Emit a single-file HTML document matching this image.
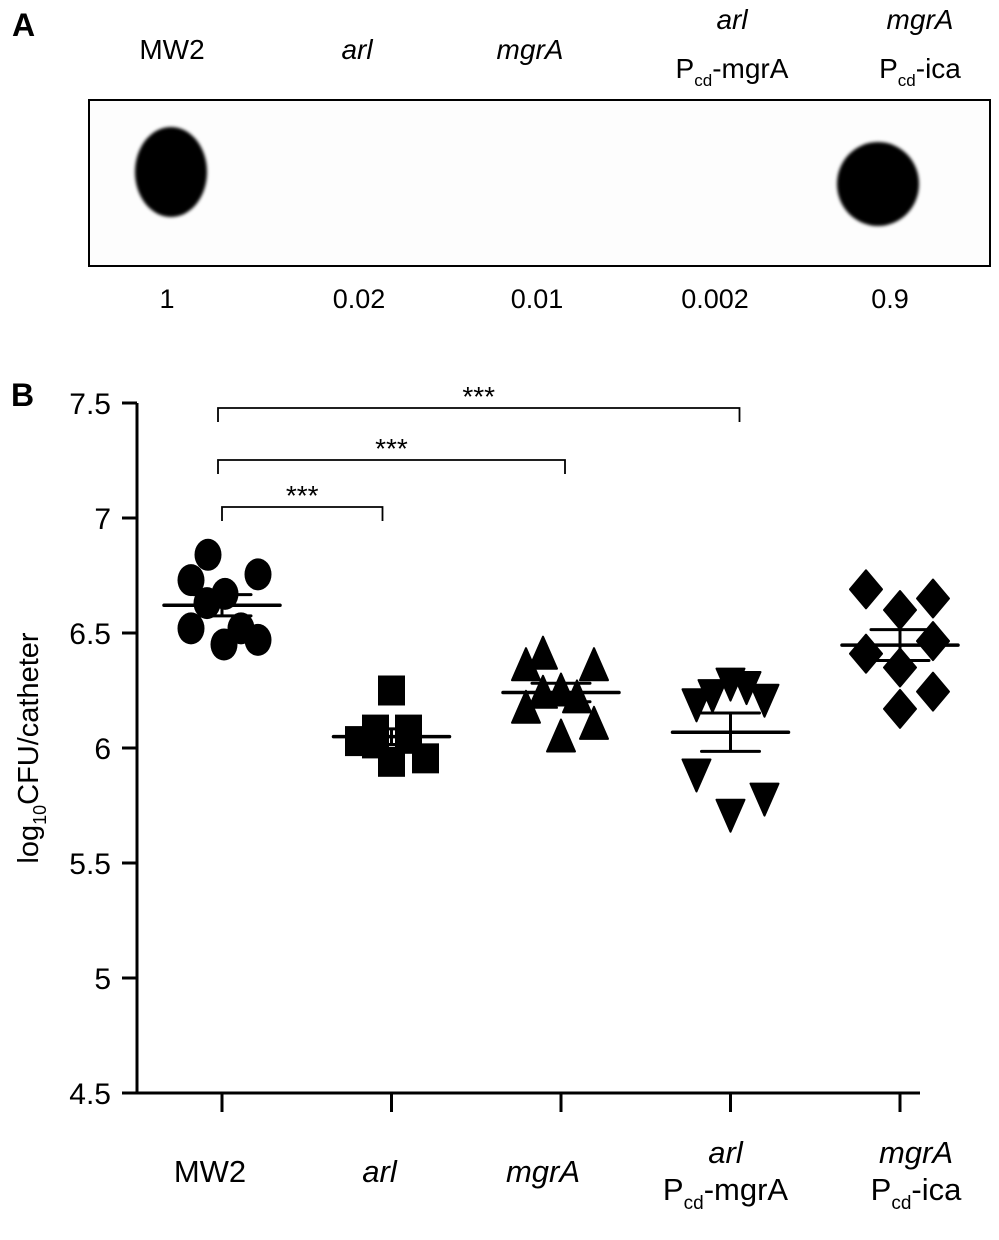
<!DOCTYPE html>
<html><head><meta charset="utf-8"><style>
html,body{margin:0;padding:0;background:#fff;}
svg{display:block;font-family:"Liberation Sans",Arial,sans-serif;}
</style></head><body>
<svg id="fig" width="999" height="1240" viewBox="0 0 999 1240">
<defs>
<filter id="blur" x="-50%" y="-50%" width="200%" height="200%"><feGaussianBlur stdDeviation="1.5"/></filter>
</defs>
<text x="12" y="36" font-size="32" font-weight="bold">A</text>
<g font-size="28" text-anchor="middle">
<text x="172" y="59">MW2</text>
<text x="357" y="59" font-style="italic">arl</text>
<text x="530" y="59" font-style="italic">mgrA</text>
<text x="732" y="29" font-style="italic">arl</text>
<text x="732" y="78">P<tspan font-size="17" dy="8">cd</tspan><tspan dy="-8">-mgrA</tspan></text>
<text x="920" y="29" font-style="italic">mgrA</text>
<text x="920" y="78">P<tspan font-size="17" dy="8">cd</tspan><tspan dy="-8">-ica</tspan></text>
</g>
<rect x="89" y="100" width="901" height="166" fill="#fdfdfd" stroke="#000" stroke-width="2"/>
<ellipse cx="171" cy="172" rx="36" ry="45" fill="#000" filter="url(#blur)"/>
<ellipse cx="878" cy="184" rx="41" ry="42" fill="#000" filter="url(#blur)"/>
<g font-size="27" text-anchor="middle">
<text x="167" y="308">1</text>
<text x="359" y="308">0.02</text>
<text x="537" y="308">0.01</text>
<text x="715" y="308">0.002</text>
<text x="890" y="308">0.9</text>
</g>
<text x="11" y="406" font-size="32" font-weight="bold">B</text>
<g id="chart"></g>
</svg>
<script>
const categories = ["MW2","arl","mgrA","arl Pcd-mgrA","mgrA Pcd-ica"];
const yTicks = [4.5,5,5.5,6,6.5,7,7.5];
const yTickLabels = ["4.5","5","5.5","6","6.5","7","7.5"];
const mw2Values = [6.84,6.73,6.755,6.67,6.63,6.52,6.52,6.47,6.45];
const mw2Offsets = [-14,-31,36,3,-15,-31,19,36,2];
const arlValues = [6.25,6.03,6.08,6.08,5.94,5.955,6.04,6.02];
const arlOffsets = [0,-33,-16,17,0,34,17,-16];
const mgraValues = [6.41,6.36,6.36,6.25,6.24,6.22,6.175,6.105,6.05];
const mgraOffsets = [-18,-35,33,0,-18,16,-35,33,0];
const arlPcdValues = [6.28,6.265,6.19,6.21,6.23,5.885,5.78,5.71];
const arlPcdOffsets = [0,16,-34,34,-18,-34,34,0];
const icaValues = [6.69,6.65,6.60,6.465,6.41,6.35,6.245,6.17];
const icaOffsets = [-34,33,0,33,-34,0,33,0];
const series = [mw2Values,arlValues,mgraValues,arlPcdValues,icaValues];
const offsets = [mw2Offsets,arlOffsets,mgraOffsets,arlPcdOffsets,icaOffsets];
const shapes = ["circle","square","up","down","diamond"];
const brackets = [[0,3],[0,2],[0,1]];
const bracketLabels = ["***","***","***"];

const NS="http://www.w3.org/2000/svg";
const g=document.getElementById('chart');
const Y0=1093, Y1=403, VMIN=4.5, VMAX=7.5;
function yScale(v){return Y0-(v-VMIN)/(VMAX-VMIN)*(Y0-Y1);}
const X0=222, XSTEP=169.5;
function xScale(i){return X0+i*XSTEP;}
function mk(tag,attrs){const e=document.createElementNS(NS,tag);for(const k in attrs)e.setAttribute(k,attrs[k]);g.appendChild(e);return e;}

let ax=mk('line',{x1:137,y1:Y1,x2:137,y2:Y0+1.5,stroke:'#000','stroke-width':3});


let bx=mk('line',{x1:135.5,y1:Y0,x2:xScale(4)+20,y2:Y0,stroke:'#000','stroke-width':3});


yTicks.forEach((t,i)=>{
  const y=yScale(t);
  const l=mk('line',{x1:122,y1:y,x2:137,y2:y,stroke:'#000','stroke-width':3});
  
  
  const tx=mk('text',{x:111,y:y+11,'font-size':30,'text-anchor':'end'});
  tx.textContent=yTickLabels[i];
  
  
});
const yt=mk('text',{x:0,y:0,'font-size':29,'text-anchor':'middle',transform:'translate(38,748) rotate(-90)'});
yt.innerHTML='log<tspan font-size="18" dy="8">10</tspan><tspan dy="-8">CFU/catheter</tspan>';



categories.forEach((c,i)=>{
  const x=xScale(i);
  const l=mk('line',{x1:x,y1:Y0,x2:x,y2:Y0+19,stroke:'#000','stroke-width':3});
  
  
});
const xl=[["MW2",null,false],["arl",null,true],["mgrA",null,true],["arl","-mgrA",true],["mgrA","-ica",true]];
const labelShift=[-12,-12,-18,-5,16];
xl.forEach((d,i)=>{
  const x=xScale(i)+labelShift[i];
  const t=mk('text',{x:x,y:d[1]?1163:1182,'font-size':31,'text-anchor':'middle'});
  if(d[2])t.setAttribute('font-style','italic');
  t.textContent=d[0];
  
  
  if(d[1]){
    const t2=mk('text',{x:x,y:1200,'font-size':31,'text-anchor':'middle'});
    t2.innerHTML='P<tspan font-size="19" dy="9">cd</tspan><tspan dy="-9">'+d[1]+'</tspan>';
    
    
  }
});

function marker(shape,x,y){
  let e;
  if(shape==='circle') e=mk('ellipse',{cx:x,cy:y,rx:13.5,ry:16});
  else if(shape==='square') e=mk('rect',{x:x-13.5,y:y-15,width:27,height:30});
  else if(shape==='up') e=mk('polygon',{points:`${x},${y-17} ${x+14},${y+15} ${x-14},${y+15}`,'stroke':'#000','stroke-width':2,'stroke-linejoin':'round'});
  else if(shape==='down') e=mk('polygon',{points:`${x-14},${y-15} ${x+14},${y-15} ${x},${y+17}`,'stroke':'#000','stroke-width':2,'stroke-linejoin':'round'});
  else e=mk('polygon',{points:`${x},${y-19} ${x+16},${y} ${x},${y+19} ${x-16},${y}`,'stroke':'#000','stroke-width':2,'stroke-linejoin':'round'});
  e.setAttribute('fill','#000');
  
  
}
series.forEach((vals,i)=>{
  const cx=xScale(i);
  vals.forEach((v,j)=>marker(shapes[i],cx+offsets[i][j],yScale(v)));
  const n=vals.length, m=vals.reduce((a,b)=>a+b,0)/n;
  const sd=Math.sqrt(vals.reduce((a,b)=>a+(b-m)*(b-m),0)/(n-1)), se=sd/Math.sqrt(n);
  const ym=yScale(m), yu=yScale(m+se), yd=yScale(m-se);
  const ml=mk('line',{x1:cx-58,y1:ym,x2:cx+58,y2:ym,stroke:'#000','stroke-width':3.5,'stroke-linecap':'round'});
  
  
  const vl=mk('line',{x1:cx,y1:yu,x2:cx,y2:yd,stroke:'#000','stroke-width':3});
  
  
  [yu,yd].forEach(yy=>{
    const c=mk('line',{x1:cx-29,y1:yy,x2:cx+29,y2:yy,stroke:'#000','stroke-width':3,'stroke-linecap':'round'});
    
    
  });
});
const bY=[408,460,507];
brackets.forEach((b,i)=>{
  const x1=xScale(b[0])-4+(i===2?4:0), x2=xScale(b[1])+(b[1]===1?-9:(b[1]===2?4:9));
  const y=bY[i];
  const p=mk('path',{d:`M${x1},${y+14}V${y}H${x2}V${y+14}`,fill:'none',stroke:'#000','stroke-width':1.8});
  
  
  const t=mk('text',{x:(x1+x2)/2,y:y-2,'font-size':28,'text-anchor':'middle'});
  t.textContent=bracketLabels[i];
  
  
});
</script>
</body></html>
